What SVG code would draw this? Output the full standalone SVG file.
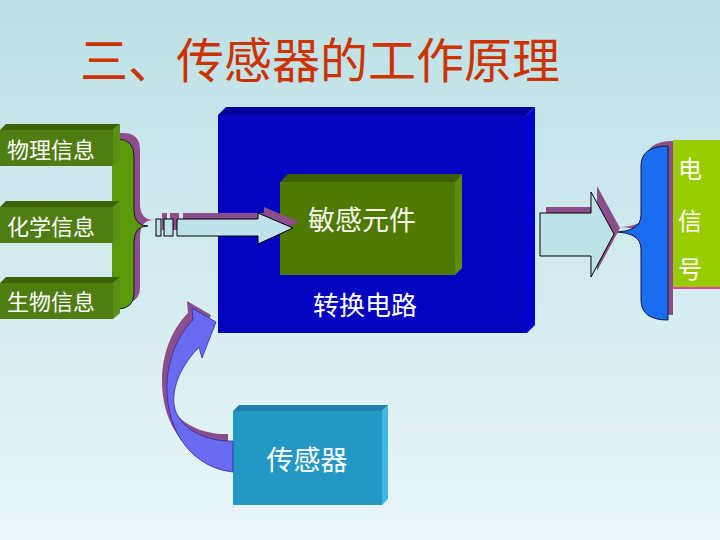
<svg xmlns="http://www.w3.org/2000/svg" width="720" height="540" viewBox="0 0 720 540">
<defs>
<linearGradient id="bg" x1="0" y1="0" x2="0" y2="1">
<stop offset="0" stop-color="#bce0e6"/>
<stop offset="1" stop-color="#eaf6f7"/>
</linearGradient>
</defs>
<style>
text{font-family:"Noto Sans CJK SC","Noto Sans CJK TC",sans-serif;}
.lbl{fill:#ffffff;}
.shadow{fill:#8b4e8b;}
.blk{fill:#bde2e8;stroke:#000;stroke-width:1;}
.gf{fill:#4e7d12;}.gt{fill:#3c620a;}.gs{fill:#5a8f16;}
</style>
<rect x="0" y="0" width="720" height="540" fill="url(#bg)"/>
<text x="320" y="78" font-size="48" fill="#cc3300" text-anchor="middle">三、传感器的工作原理</text>

<g id="brace-left">
<path class="shadow" transform="translate(6,-6)" d="M112,139 L117,139 Q134,139 134,156 L134,210 Q134,226 148,226 Q134,226 134,242 L134,293 Q134,309 117,309 L112,309 Z"/>
<path fill="#5a9a0a" d="M112,139 L117,139 Q134,139 134,156 L134,210 Q134,226 148,226 Q134,226 134,242 L134,293 Q134,309 117,309 L112,309 Z"/>
<path fill="none" stroke="#1a1a1a" stroke-width="1" d="M117,139 Q134,139 134,156 L134,210 Q134,226 148,226 Q134,226 134,242 L134,293 Q134,309 117,309"/>
</g>

<g id="info-physical">
<polygon class="gt" points="0,130 6,124 120,124 113,130"/>
<polygon class="gs" points="113,130 120,124 120,160 113,166"/>
<rect class="gf" x="0" y="130" width="113" height="36"/>
<text class="lbl" x="7" y="158" font-size="22">物理信息</text>
</g>
<g id="info-chemical">
<polygon class="gt" points="0,207 6,201 120,201 113,207"/>
<polygon class="gs" points="113,207 120,201 120,237 113,243"/>
<rect class="gf" x="0" y="207" width="113" height="36"/>
<text class="lbl" x="7" y="235" font-size="22">化学信息</text>
</g>
<g id="info-biological">
<polygon class="gt" points="0,283 6,277 120,277 113,283"/>
<polygon class="gs" points="113,283 120,277 120,313 113,319"/>
<rect class="gf" x="0" y="283" width="113" height="36"/>
<text class="lbl" x="7" y="310" font-size="22">生物信息</text>
</g>

<g id="conversion-circuit">
<polygon fill="#00009a" points="218,115 226,107 535,107 527,115"/>
<polygon fill="#0000d4" points="527,115 535,107 535,325 527,333"/>
<rect x="218" y="115" width="309" height="218" fill="#0303c0"/>
<text class="lbl" x="365" y="315" font-size="26" text-anchor="middle">转换电路</text>
</g>

<g id="sensing-element">
<polygon fill="#3d5e05" points="280,182 288,174 462,174 455,182"/>
<polygon fill="#5c8d0a" points="455,182 462,174 462,268 455,275"/>
<rect x="280" y="182" width="175" height="93" fill="#4f7a02"/>
<text x="362" y="230" font-size="27" fill="#f6f6ea" text-anchor="middle">敏感元件</text>
</g>

<g id="sensor">
<polygon fill="#1f7fa8" points="233,411 239,405 388,405 382,411"/>
<polygon fill="#3bb8e6" points="382,411 388,405 388,499 382,505"/>
<rect x="233" y="411" width="149" height="94" fill="#2498c5"/>
<text class="lbl" x="307" y="470" font-size="27" text-anchor="middle">传感器</text>
</g>

<g id="brace-right">
<path class="shadow" transform="translate(5,-5)" d="M668,146 Q641,146 641,166 L641,215 Q641,232 613,232 Q641,232 641,249 L641,300 Q641,320 668,320 Z"/>
<path fill="#1c6cf0" stroke="#0a1a40" stroke-width="1" d="M668,146 Q641,146 641,166 L641,215 Q641,232 613,232 Q641,232 641,249 L641,300 Q641,320 668,320 Z"/>
</g>

<g id="electric-signal">
<rect x="673" y="140" width="47" height="148" fill="#99cc00"/>
<line x1="672" y1="288" x2="720" y2="288" stroke="#e040a0" stroke-width="2"/>
<text class="lbl" x="690" y="178" font-size="24" text-anchor="middle">电</text>
<text class="lbl" x="690" y="230" font-size="24" text-anchor="middle">信</text>
<text class="lbl" x="690" y="278" font-size="24" text-anchor="middle">号</text>
</g>

<g id="connectors">
<g id="arrow-in">
<g class="shadow" transform="translate(6,-6)">
<rect x="156" y="219" width="5" height="17"/>
<rect x="164" y="219" width="9" height="17"/>
<path d="M177,219 L258,219 L258,213 L293,228 L258,244 L258,236 L177,236 Z"/>
</g>
<rect class="blk" x="156" y="219" width="5" height="17"/>
<rect class="blk" x="164" y="219" width="9" height="17"/>
<path class="blk" d="M177,219 L258,219 L258,213 L293,228 L258,244 L258,236 L177,236 Z"/>
</g>
<g id="arrow-out">
<path class="shadow" transform="translate(6,-6)" d="M540,213 L591,213 L591,192 L614,234 L591,277 L591,256 L540,256 Z"/>
<path class="blk" d="M540,213 L591,213 L591,192 L614,234 L591,277 L591,256 L540,256 Z"/>
</g>
<g id="arrow-curved">
<path class="shadow" transform="translate(-5,-7)" d="M233,472 C195,468 166,435 167,385 C168,355 180,333 193,320 L192,308 L216,322 L202,358 L199,347 C182,365 172,385 174,405 C178,428 205,442 233,441 Z"/>
<path fill="#6b6bf2" stroke="#2a2aa8" stroke-width="0.8" d="M233,472 C195,468 166,435 167,385 C168,355 180,333 193,320 L192,308 L216,322 L202,358 L199,347 C182,365 172,385 174,405 C178,428 205,442 233,441 Z"/>
</g>
</g>
</svg>
